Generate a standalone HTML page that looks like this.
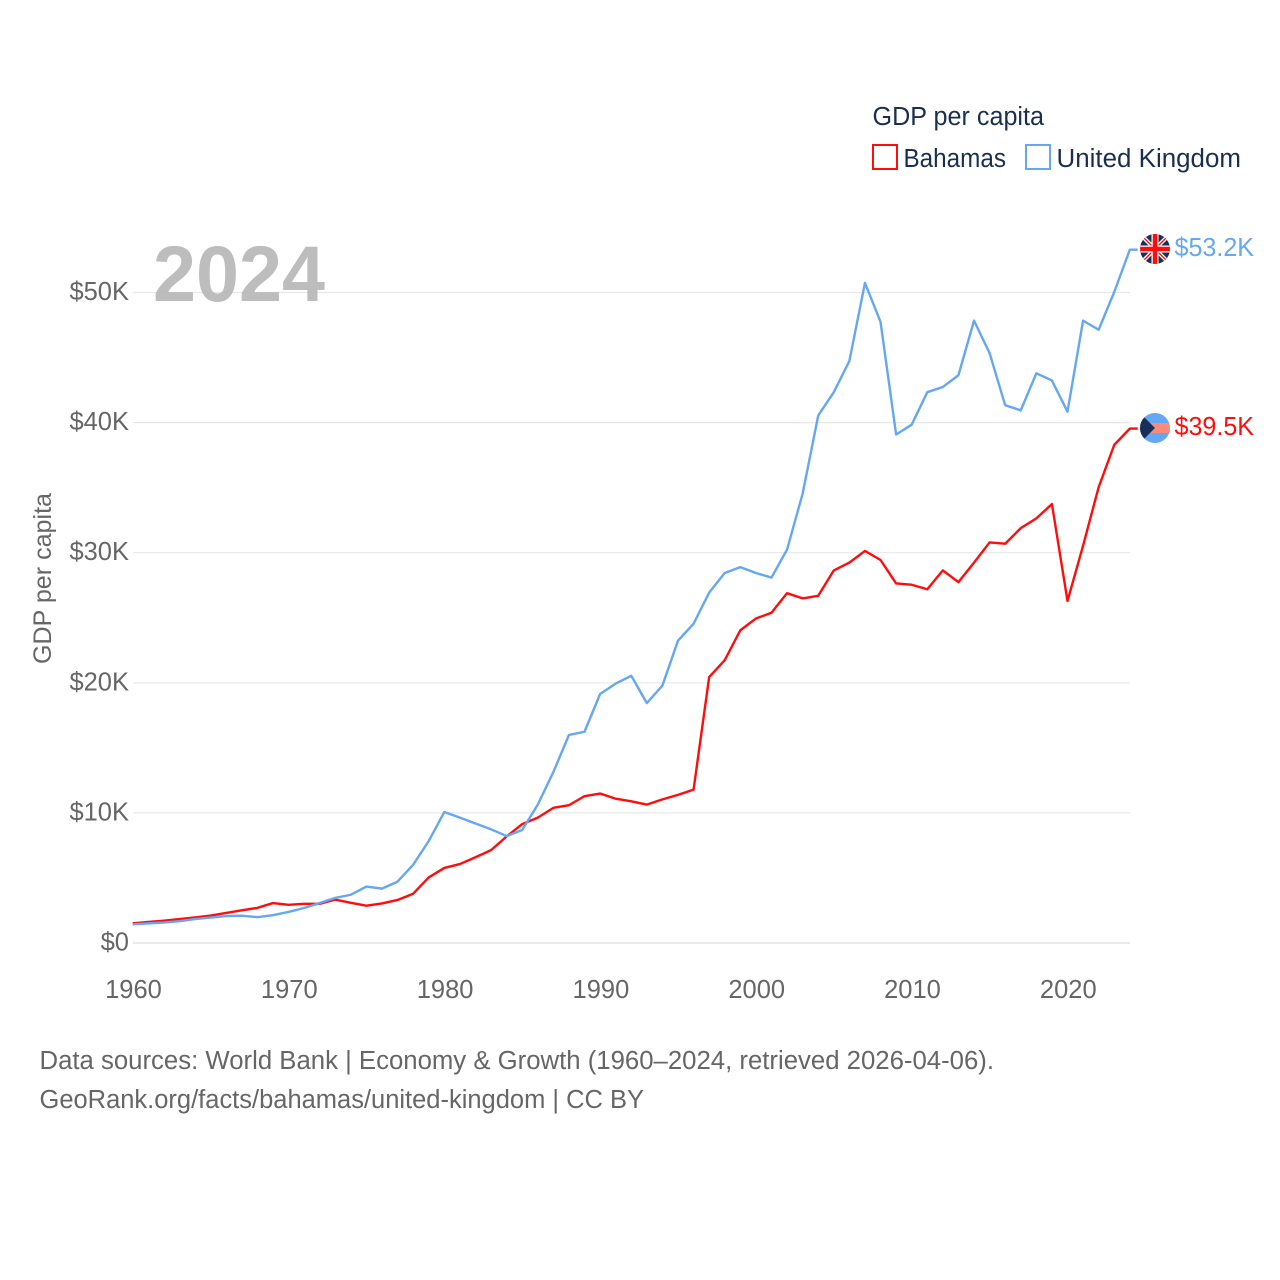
<!DOCTYPE html>
<html lang="en">
<head>
<meta charset="utf-8">
<title>GDP per capita: Bahamas vs United Kingdom</title>
<style>
html,body{margin:0;padding:0;background:#fff;}
svg{display:block;font-family:"Liberation Sans",sans-serif;}
</style>
</head>
<body>
<svg id="chart" xmlns="http://www.w3.org/2000/svg" width="1280" height="1280" viewBox="0 0 1280 1280">
  <defs>
    <clipPath id="flag-uk-clip"><circle cx="1155" cy="249" r="15"/></clipPath>
    <clipPath id="flag-bs-clip"><circle cx="1155" cy="428" r="15"/></clipPath>
  </defs>
  <g id="grid"></g>
  <g id="yticks"></g>
  <g id="xticks"></g>
  <text x="51" y="578.5" transform="rotate(-90 51 578.5)" text-anchor="middle" font-size="25" fill="#666" textLength="171" lengthAdjust="spacingAndGlyphs">GDP per capita</text>
  <text x="153" y="301" font-size="79" font-weight="700" fill="#b4b4b4" fill-opacity="0.88" textLength="172" lengthAdjust="spacingAndGlyphs">2024</text>
  <g id="series" transform="translate(-0.3 -0.5)"></g>

  <g clip-path="url(#flag-uk-clip)">
    <rect x="1140" y="234" width="30" height="30" fill="#16305a"/>
    <path d="M1140 234L1170 264M1170 234L1140 264" stroke="#fff" stroke-width="4"/>
    <path d="M1140 234L1170 264M1170 234L1140 264" stroke="#ff0d0d" stroke-width="1.4"/>
    <path d="M1155 234V264M1140 249H1170" stroke="#fff" stroke-width="7"/>
    <path d="M1155 234V264M1140 249H1170" stroke="#ff0d0d" stroke-width="4.5"/>
  </g>
  <g clip-path="url(#flag-bs-clip)">
    <rect x="1140" y="413" width="30" height="30" fill="#65a7f0"/>
    <rect x="1140" y="423" width="30" height="10" fill="#ff8a7a"/>
    <path d="M1140 413L1155 428L1140 443Z" fill="#16305a"/>
  </g>
  <text x="1174.5" y="256" font-size="25.5" fill="#65a7f0" textLength="79.5" lengthAdjust="spacingAndGlyphs">$53.2K</text>
  <text x="1174.5" y="435" font-size="25.5" fill="#ff0d0d" textLength="79.5" lengthAdjust="spacingAndGlyphs">$39.5K</text>

  <g>
    <text x="872.5" y="125" font-size="25.5" fill="#1a2f4f" textLength="171.5" lengthAdjust="spacingAndGlyphs">GDP per capita</text>
    <g>
      <rect x="873" y="145" width="24" height="24" fill="none" stroke="#ff0d0d" stroke-width="2"/>
      <text x="903.5" y="167" font-size="25.5" fill="#1a2f4f" textLength="102.5" lengthAdjust="spacingAndGlyphs">Bahamas</text>
    </g>
    <g>
      <rect x="1026" y="145" width="24" height="24" fill="none" stroke="#65a7f0" stroke-width="2"/>
      <text x="1056.5" y="167" font-size="25.5" fill="#1a2f4f" textLength="184.5" lengthAdjust="spacingAndGlyphs">United Kingdom</text>
    </g>
  </g>

  <text x="39.5" y="1069" font-size="25.5" fill="#666" textLength="954.5" lengthAdjust="spacingAndGlyphs">Data sources: World Bank | Economy &amp; Growth (1960–2024, retrieved 2026-04-06).</text>
  <text x="39.5" y="1108" font-size="25.5" fill="#666" textLength="604.5" lengthAdjust="spacingAndGlyphs">GeoRank.org/facts/bahamas/united-kingdom | CC BY</text>
</svg>
<script>
const firstYear = 1960;
const xTickYears = [1960, 1970, 1980, 1990, 2000, 2010, 2020];
const yTickValues = [0, 10, 20, 30, 40, 50];
const yTickLabels = ["$0", "$10K", "$20K", "$30K", "$40K", "$50K"];
const unitedKingdom = [1.40,1.47,1.53,1.64,1.80,1.92,2.03,2.06,1.95,2.10,2.35,2.65,3.03,3.43,3.67,4.30,4.14,4.68,5.97,7.80,10.03,9.60,9.15,8.70,8.18,8.65,10.60,13.10,15.95,16.20,19.10,19.90,20.50,18.40,19.75,23.20,24.50,26.90,28.40,28.85,28.40,28.05,30.20,34.50,40.50,42.30,44.70,50.70,47.70,39.05,39.80,42.30,42.70,43.60,47.80,45.30,41.30,40.90,43.75,43.20,40.80,47.80,47.10,50.00,53.25];
const bahamas = [1.47,1.58,1.68,1.80,1.93,2.07,2.27,2.47,2.66,3.03,2.90,2.97,2.97,3.30,3.05,2.83,3.00,3.27,3.75,5.00,5.73,6.03,6.55,7.10,8.15,9.10,9.60,10.35,10.55,11.25,11.45,11.05,10.85,10.60,11.00,11.35,11.75,20.40,21.70,24.00,24.90,25.35,26.85,26.45,26.65,28.60,29.20,30.10,29.40,27.60,27.50,27.15,28.60,27.70,29.20,30.75,30.65,31.85,32.60,33.70,26.25,30.50,35.00,38.25,39.50];

const NS = "http://www.w3.org/2000/svg";
const xOf = function (year) { return 133 + (year - 1960) * 15.58; };
const yOf = function (value) { return 943 - value * 13.01; };
const flagEdgeX = 1138;

yTickValues.forEach(function (v, i) {
  const line = document.createElementNS(NS, "line");
  line.setAttribute("x1", 133);
  line.setAttribute("x2", 1130);
  line.setAttribute("y1", yOf(v));
  line.setAttribute("y2", yOf(v));
  line.setAttribute("stroke", v === 0 ? "#dcdcdc" : "#e8e8e8");
  line.setAttribute("stroke-width", 1.2);
  
  
  document.getElementById("grid").appendChild(line);

  const label = document.createElementNS(NS, "text");
  label.setAttribute("x", 129);
  label.setAttribute("y", yOf(v) + 7.5);
  label.setAttribute("text-anchor", "end");
  label.setAttribute("font-size", 25.5);
  label.setAttribute("fill", "#666");
  label.textContent = yTickLabels[i];
  
  
  document.getElementById("yticks").appendChild(label);
});

xTickYears.forEach(function (year) {
  const label = document.createElementNS(NS, "text");
  label.setAttribute("x", xOf(year) + 0.5);
  label.setAttribute("y", 998);
  label.setAttribute("text-anchor", "middle");
  label.setAttribute("font-size", 25.5);
  label.setAttribute("fill", "#666");
  label.textContent = String(year);
  
  
  document.getElementById("xticks").appendChild(label);
});

function seriesPoints(values) {
  const pts = values.map(function (v, i) {
    return xOf(firstYear + i).toFixed(2) + "," + yOf(v).toFixed(2);
  });
  pts.push(flagEdgeX + "," + yOf(values[values.length - 1]).toFixed(2));
  return pts.join(" ");
}

const ukLine = document.createElementNS(NS, "polyline");
ukLine.setAttribute("points", seriesPoints(unitedKingdom));
ukLine.setAttribute("fill", "none");
ukLine.setAttribute("stroke", "#65a7f0");
ukLine.setAttribute("stroke-width", 2.4);
ukLine.setAttribute("stroke-linejoin", "round");



const bsLine = document.createElementNS(NS, "polyline");
bsLine.setAttribute("points", seriesPoints(bahamas));
bsLine.setAttribute("fill", "none");
bsLine.setAttribute("stroke", "#ff0d0d");
bsLine.setAttribute("stroke-width", 2.4);
bsLine.setAttribute("stroke-linejoin", "round");



document.getElementById("series").appendChild(bsLine);
document.getElementById("series").appendChild(ukLine);
</script>
</body>
</html>
